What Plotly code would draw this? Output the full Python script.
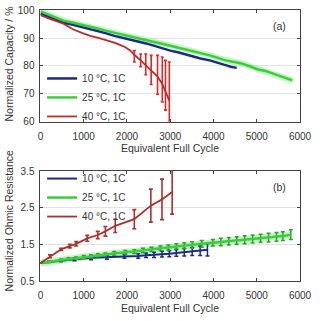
import plotly.graph_objects as go

# ---------------- data: (a) normalized capacity ----------------
cap10_x = [0, 250, 529, 750, 970, 1150, 1338, 1500, 1706, 1900, 2074, 2250, 2441, 2600,
           2809, 3000, 3176, 3350, 3544, 3700, 3912, 4100, 4279, 4400, 4537]
cap10_y = [98.8, 97.2, 95.6, 94.8, 94.0, 93.3, 92.5, 91.8, 90.8, 90.0, 89.5, 88.8, 88.1, 87.3,
           86.2, 85.5, 84.9, 84.1, 83.4, 82.7, 82.0, 81.0, 80.3, 79.7, 79.3]

cap25_x = [0, 250, 529, 750, 970, 1150, 1338, 1500, 1706, 1900, 2074, 2250, 2441, 2600, 2809,
           3000, 3176, 3350, 3544, 3700, 3912, 4100, 4279, 4450, 4647, 4850, 5015, 5200, 5382,
           5550, 5750, 5824]
cap25_y = [99.6, 98.0, 96.3, 95.5, 94.8, 94.0, 93.4, 92.7, 91.9, 91.3, 90.7, 90.0, 89.2, 88.7, 88.0,
           87.3, 86.7, 86.0, 85.4, 84.7, 83.8, 82.9, 82.0, 81.5, 80.9, 79.8, 78.8, 78.2, 77.2,
           76.3, 75.3, 74.8]

cap40_x = [0, 200, 529, 750, 970, 1150, 1338, 1500, 1706, 1850, 1963, 2080, 2169, 2316, 2434,
           2559, 2706, 2816, 2890, 2978]
cap40_y = [98.3, 97.0, 95.2, 93.2, 91.8, 90.8, 90.1, 89.4, 88.4, 87.5, 86.7, 85.5, 84.0, 82.0, 80.3,
           78.5, 76.2, 73.5, 71.0, 67.5]
cap40_err_x = [2169, 2316, 2434, 2559, 2706, 2816, 2890, 2978]
cap40_err_c = [84.0, 82.0, 80.3, 78.5, 76.2, 73.5, 71.0, 67.5]
cap40_err_plus = [1.5, 2.3, 4.0, 5.3, 7.6, 9.7, 11.0, 13.9]
cap40_err_minus = [2.6, 2.3, 3.5, 5.2, 6.4, 6.5, 6.9, 7.5]

# ---------------- data: (b) normalized ohmic resistance ----------------
res10_x = [0, 200, 472, 787, 1169, 1537, 1941, 2259, 2441, 2625, 2809, 2978, 3140, 3324, 3507,
           3691, 3860]
res10_y = [1.00, 1.03, 1.06, 1.10, 1.14, 1.15, 1.18, 1.19, 1.21, 1.22, 1.24, 1.25, 1.27, 1.29, 1.31,
           1.33, 1.36]
res10_err = [0, 0.02, 0.03, 0.04, 0.05, 0.05, 0.05, 0.06, 0.06, 0.07, 0.08, 0.08, 0.09, 0.10, 0.11,
             0.13, 0.17]

res25_x = [0, 200, 478, 650, 824, 1000, 1169, 1324, 1500, 1706, 1963, 2169, 2368, 2566, 2772,
           2956, 3140, 3324, 3507, 3728, 3985, 4169, 4353, 4537, 4721, 4904, 5088, 5272, 5456,
           5603, 5787]
res25_y = [1.00, 1.04, 1.08, 1.11, 1.13, 1.16, 1.18, 1.21, 1.23, 1.26, 1.29, 1.31, 1.34, 1.37, 1.40,
           1.42, 1.45, 1.47, 1.49, 1.52, 1.55, 1.57, 1.59, 1.61, 1.63, 1.65, 1.67, 1.69, 1.71,
           1.73, 1.77]
res25_err = [0, 0.02, 0.03, 0.03, 0.03, 0.04, 0.04, 0.04, 0.04, 0.05, 0.05, 0.05, 0.06, 0.06, 0.06,
             0.07, 0.07, 0.08, 0.09, 0.09, 0.09, 0.10, 0.10, 0.10, 0.11, 0.11, 0.11, 0.12, 0.12,
             0.12, 0.13]

res40_x = [0, 221, 478, 676, 824, 1081, 1324, 1500, 1728, 2169, 2551, 2809, 3044]
res40_y = [1.00, 1.18, 1.37, 1.46, 1.52, 1.67, 1.76, 1.86, 2.01, 2.19, 2.56, 2.73, 2.93]
res40_err = [0, 0.04, 0.03, 0.05, 0.06, 0.08, 0.10, 0.13, 0.18, 0.26, 0.45, 0.55, 0.60]

legend_names = ["10 °C, 1C", "25 °C, 1C", "40 °C, 1C"]
x_ticks = [0, 1000, 2000, 3000, 4000, 5000, 6000]
cap_ticks = [60, 70, 80, 90, 100]
res_ticks = [0.5, 1.5, 2.5, 3.5]
res_tick_labels = ["0.5", "1.5", "2.5", "3.5"]

NAVY = "#1c2a86"
GREEN = "#3ccc3c"
GREEN_HALO = "rgba(140,235,140,0.55)"
GREEN_BAR = "#2f9e2f"
RED_LINE = "#b3302b"
RED_BAR = "#e02828"
RED_B = "#a8322e"
TXT = "#333333"
FONT = "Liberation Sans, Arial, sans-serif"

fig = go.Figure()

# ---- (a) ----
fig.add_trace(go.Scatter(x=cap25_x, y=cap25_y, mode="lines", line=dict(color=GREEN_HALO, width=6),
                         hoverinfo="skip", showlegend=False, xaxis="x", yaxis="y"))
fig.add_trace(go.Scatter(x=cap10_x, y=cap10_y, mode="lines", name=legend_names[0],
                         line=dict(color=NAVY, width=2.5), xaxis="x", yaxis="y", legend="legend"))
fig.add_trace(go.Scatter(x=cap25_x, y=cap25_y, mode="lines", name=legend_names[1],
                         line=dict(color=GREEN, width=2.5), xaxis="x", yaxis="y", legend="legend"))
fig.add_trace(go.Scatter(x=cap40_err_x, y=cap40_err_c, mode="lines", line=dict(width=0),
                         error_y=dict(type="data", array=cap40_err_plus, arrayminus=cap40_err_minus,
                                      color=RED_BAR, thickness=1.6, width=1.5),
                         showlegend=False, hoverinfo="skip", xaxis="x", yaxis="y"))
fig.add_trace(go.Scatter(x=cap40_x, y=cap40_y, mode="lines", name=legend_names[2],
                         line=dict(color=RED_LINE, width=1.8), xaxis="x", yaxis="y", legend="legend"))

# ---- (b) ----
fig.add_trace(go.Scatter(x=res25_x, y=res25_y, mode="lines", line=dict(color=GREEN_HALO, width=7),
                         hoverinfo="skip", showlegend=False, xaxis="x2", yaxis="y2"))
fig.add_trace(go.Scatter(x=res10_x, y=res10_y, mode="lines", name=legend_names[0],
                         line=dict(color=NAVY, width=2),
                         error_y=dict(type="data", array=res10_err, color=NAVY, thickness=1.5, width=2),
                         xaxis="x2", yaxis="y2", legend="legend2"))
fig.add_trace(go.Scatter(x=res25_x, y=res25_y, mode="lines", name=legend_names[1],
                         line=dict(color=GREEN, width=2.5),
                         error_y=dict(type="data", array=res25_err, color=GREEN_BAR, thickness=1.5, width=2),
                         xaxis="x2", yaxis="y2", legend="legend2"))
fig.add_trace(go.Scatter(x=res40_x, y=res40_y, mode="lines", name=legend_names[2],
                         line=dict(color=RED_B, width=1.8),
                         error_y=dict(type="data", array=res40_err, color=RED_B, thickness=1.6, width=2),
                         xaxis="x2", yaxis="y2", legend="legend2"))

W, H = 323, 321
x_dom = [39.3 / W, 311.5 / W]
y1_dom = [1 - 120 / H, 1 - 4.5 / H]
y2_dom = [1 - 286 / H, 1 - 171.5 / H]

axis_common = dict(showline=True, linecolor="#444444", linewidth=1, mirror="ticks",
                   ticks="inside", ticklen=3, tickcolor="#444444", ticklabeloverflow="allow",
                   tickfont=dict(size=10, color=TXT, family=FONT), zeroline=False)

def ann(text, xp, yp, angle=0):
    return dict(text=text, x=xp / W, y=1 - yp / H, xref="paper", yref="paper", showarrow=False,
                xanchor="center", yanchor="middle", textangle=angle,
                font=dict(size=10.5, color=TXT, family=FONT))

fig.update_layout(
    width=W, height=H,
    margin=dict(l=0, r=0, t=0, b=0),
    paper_bgcolor="white", plot_bgcolor="white",
    font=dict(family=FONT, color=TXT, size=10),
    xaxis=dict(domain=x_dom, anchor="y", range=[0, 6000], tickvals=x_ticks,
               showgrid=False, ticklabelstandoff=5, **axis_common),
    yaxis=dict(domain=y1_dom, anchor="x", range=[60, 100], tickvals=cap_ticks,
               showgrid=True, gridcolor="#e2e2e2", ticklabelstandoff=3, **axis_common),
    xaxis2=dict(domain=x_dom, anchor="y2", range=[0, 6000], tickvals=x_ticks,
                showgrid=False, ticklabelstandoff=5, **axis_common),
    yaxis2=dict(domain=y2_dom, anchor="x2", range=[0.5, 3.5], tickvals=res_ticks,
                ticktext=res_tick_labels, showgrid=True, gridcolor="#e2e2e2",
                ticklabelstandoff=3, **axis_common),
    legend=dict(x=41 / W, y=1 - 95 / H, xanchor="left", yanchor="middle",
                bgcolor="rgba(0,0,0,0)", font=dict(size=10, color=TXT, family=FONT),
                tracegroupgap=0, itemwidth=30),
    legend2=dict(x=41 / W, y=1 - 199 / H, xanchor="left", yanchor="middle",
                 bgcolor="rgba(0,0,0,0)", font=dict(size=10, color=TXT, family=FONT),
                 tracegroupgap=0, itemwidth=30),
    annotations=[
        ann("(a)", 290, 21),
        ann("(b)", 290, 188),
        ann("Equivalent Full Cycle", 175.4, 147),
        ann("Equivalent Full Cycle", 175.4, 314),
        ann("Normalized Capacity / %", 6, 60, -90),
        ann("Normalized Ohmic Resistance", 6, 223, -90),
    ],
)

fig.write_html("out.html")
